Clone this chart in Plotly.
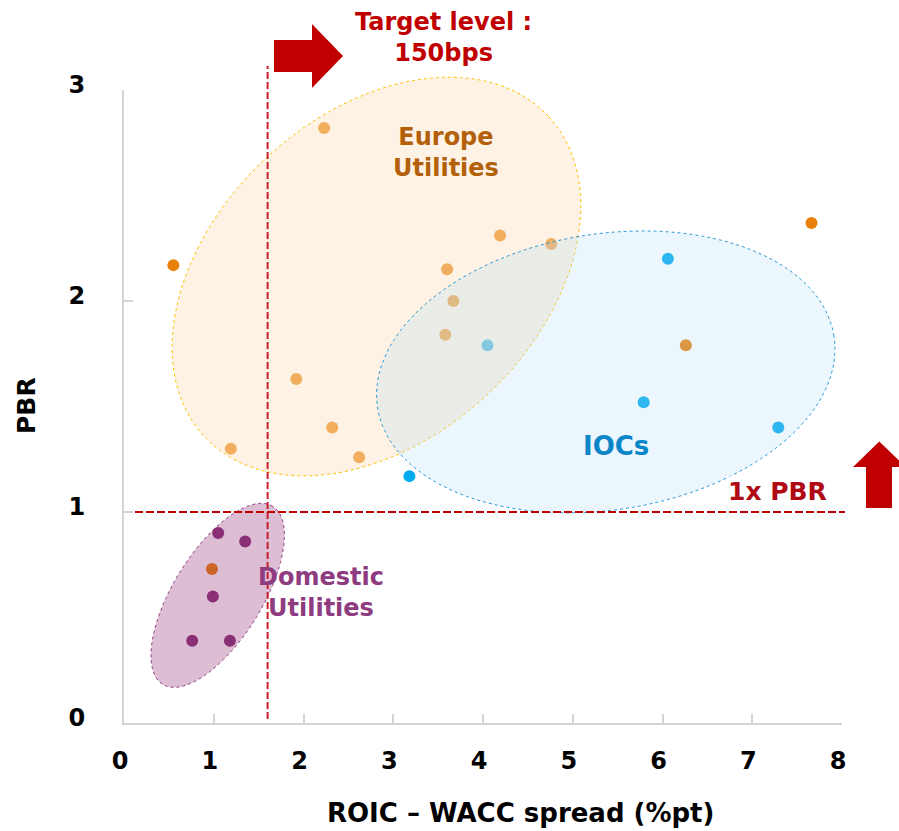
import numpy as np
import plotly.graph_objects as go

# ---------------- data ----------------
eu_x = [0.55, 2.23, 3.60, 4.19, 4.76, 3.67, 3.58, 1.92, 2.32, 1.19, 2.62, 6.26, 7.66, 0.98]
eu_y = [2.17, 2.82, 2.15, 2.31, 2.27, 2.00, 1.84, 1.63, 1.40, 1.30, 1.26, 1.79, 2.37, 0.73]
ioc_x = [3.18, 4.05, 6.06, 5.79, 7.29]
ioc_y = [1.17, 1.79, 2.20, 1.52, 1.40]
dom_x = [1.05, 1.35, 0.99, 0.76, 1.18]
dom_y = [0.90, 0.86, 0.60, 0.39, 0.39]

x_ticks = [0, 1, 2, 3, 4, 5, 6, 7, 8]
y_ticks = [0, 1, 2, 3]
target_spread = 1.6   # ROIC-WACC target (150bps line)
pbr_level = 1.0       # 1x PBR

# ---------------- layout geometry ----------------
W, H = 899, 831
ML, MR, MT, MB = 124, 57, 90, 108
PW, PH = W - ML - MR, H - MT - MB
XMAX, YMAX = 8, 3


def data_to_px(x, y):
    return ML + x / XMAX * PW, (H - MB) - y / YMAX * PH


def px_to_paper(px, py):
    return (px - ML) / PW, ((H - MB) - py) / PH


def ellipse_path(cx, cy, a, b, ang):
    pcx, pcy = data_to_px(cx, cy)
    t = np.linspace(0, 2 * np.pi, 200)
    th = np.deg2rad(ang)
    px = pcx + a * np.cos(th) * np.cos(t) - b * np.sin(th) * np.sin(t)
    py = pcy - (a * np.sin(th) * np.cos(t) + b * np.cos(th) * np.sin(t))
    pts = [px_to_paper(u, v) for u, v in zip(px, py)]
    return "M " + " L ".join(f"{u:.5f},{v:.5f}" for u, v in pts) + " Z"


def poly_path(pts_px):
    pts = [px_to_paper(u, v) for u, v in pts_px]
    return "M " + " L ".join(f"{u:.5f},{v:.5f}" for u, v in pts) + " Z"


FONT = "DejaVu Sans"

fig = go.Figure()
fig.add_trace(go.Scatter(x=eu_x, y=eu_y, mode="markers", name="Europe Utilities",
                         marker=dict(size=12, color="#E8810A"), hoverinfo="x+y"))
fig.add_trace(go.Scatter(x=ioc_x, y=ioc_y, mode="markers", name="IOCs",
                         marker=dict(size=12, color="#00AAEE"), hoverinfo="x+y"))
fig.add_trace(go.Scatter(x=dom_x, y=dom_y, mode="markers", name="Domestic Utilities",
                         marker=dict(size=12, color="#8A3378"), hoverinfo="x+y"))

shapes = []
# group ellipses (drawn above the points, translucent)
shapes.append(dict(type="path", xref="paper", yref="paper", layer="above",
                   path=ellipse_path(1.044, 0.605, 104.6, 44.4, 58.3),
                   fillcolor="rgba(138,38,112,0.30)",
                   line=dict(color="#8E3B80", width=1, dash="dot")))
shapes.append(dict(type="path", xref="paper", yref="paper", layer="above",
                   path=ellipse_path(2.813, 2.116, 235, 162, 43),
                   fillcolor="rgba(250,227,195,0.46)",
                   line=dict(color="#FFC000", width=1, dash="dot")))
shapes.append(dict(type="path", xref="paper", yref="paper", layer="above",
                   path=ellipse_path(5.368, 1.664, 231, 138, 8.9),
                   fillcolor="rgba(180,219,247,0.25)",
                   line=dict(color="#2A9AD8", width=1, dash="dot")))

# reference dashed lines
vx, _ = px_to_paper(data_to_px(target_spread, 0)[0], 0)
shapes.append(dict(type="line", xref="paper", yref="paper", layer="above",
                   x0=vx, x1=vx, y0=px_to_paper(0, 719)[1], y1=px_to_paper(0, 66)[1],
                   line=dict(color="#C8202A", width=2, dash="7px,3px")))
_, hy = px_to_paper(0, data_to_px(0, pbr_level)[1])
shapes.append(dict(type="line", xref="paper", yref="paper", layer="above",
                   x0=px_to_paper(135, 0)[0], x1=px_to_paper(845, 0)[0], y0=hy, y1=hy,
                   line=dict(color="#C00000", width=2, dash="8px,3px")))

# block arrows
shapes.append(dict(type="path", xref="paper", yref="paper", layer="above",
                   path=poly_path([(274, 40), (312, 40), (312, 24), (343, 56), (312, 88), (312, 72), (274, 72)]),
                   fillcolor="#C00000", line=dict(width=0)))
shapes.append(dict(type="path", xref="paper", yref="paper", layer="above",
                   path=poly_path([(866, 508), (866, 467), (853, 467), (879.3, 441.5), (905.6, 467), (892, 467), (892, 508)]),
                   fillcolor="#C00000", line=dict(width=0)))


def ann(text, px, py, size, color, **kw):
    x, y = px_to_paper(px, py)
    d = dict(text=text, x=x, y=y, xref="paper", yref="paper", showarrow=False,
             xanchor="center", yanchor="middle",
             font=dict(family=FONT, size=size, color=color))
    d.update(kw)
    return d


annotations = [
    ann("<b>Target level :</b><br><b>150bps</b>", 443, 38, 24, "#C00000"),
    ann("<b>Europe</b><br><b>Utilities</b>", 446, 152, 24, "#B4600A"),
    ann("<b>IOCs</b>", 616, 446, 26, "#0A86C8"),
    ann("<b>Domestic</b><br><b>Utilities</b>", 321, 592, 24, "#8E3B80"),
    ann("<b>1x PBR</b>", 777, 491, 25, "#B00A14", bgcolor="rgba(255,255,255,0.6)"),
    ann("<b>ROIC – WACC spread (%pt)</b>", 520, 813, 26, "#000000"),
    ann("<b>PBR</b>", 26, 406, 25, "#000000", textangle=-90),
]

fig.update_layout(
    width=W, height=H,
    margin=dict(l=ML, r=MR, t=MT, b=MB, pad=0),
    paper_bgcolor="white", plot_bgcolor="white",
    showlegend=False,
    shapes=shapes, annotations=annotations,
    xaxis=dict(range=[0, XMAX], tickvals=x_ticks, ticktext=[str(v) for v in x_ticks],
               showgrid=False, zeroline=False, showline=True, linecolor="#D4D4D4", linewidth=2,
               ticks="inside", ticklen=9, tickcolor="#D4D4D4", tickwidth=1.5,
               tickfont=dict(family=FONT, size=24, color="#000000", weight="bold"),
               ticklabelstandoff=15, ticklabelshift=-4, fixedrange=True),
    yaxis=dict(range=[0, YMAX], tickvals=y_ticks, ticktext=[str(v) for v in y_ticks],
               showgrid=False, zeroline=False, showline=True, linecolor="#D4D4D4", linewidth=2,
               ticks="inside", ticklen=9, tickcolor="#D4D4D4", tickwidth=1.5,
               tickfont=dict(family=FONT, size=24, color="#000000", weight="bold"),
               ticklabelstandoff=32, ticklabelshift=-5, fixedrange=True),
)

fig.write_html("out.html")
